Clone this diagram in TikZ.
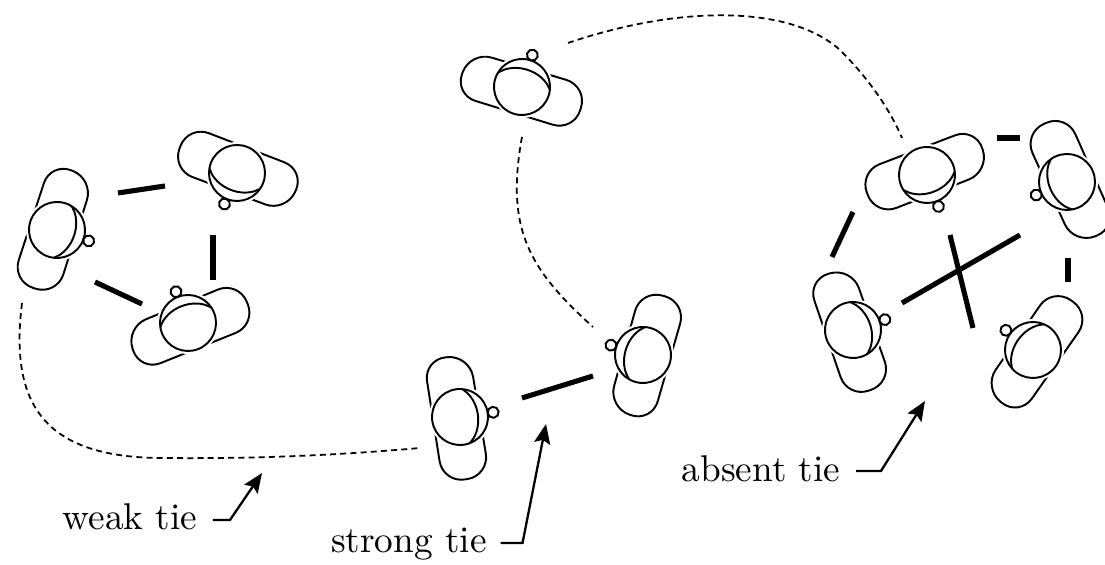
\documentclass[tikz,border=0pt]{standalone}
\usepackage{tikz}
\usetikzlibrary{arrows.meta, calc}

% one person seen from above: shoulders, head and nose
\newcommand{\person}[3]{%
	\coordinate (#1) at (#2);
	\begin{scope}[shift={(#1)}, rotate=#3]
		\draw[outline, rounded corners=0.22cm] (-28,-62) -- (18,-60) -- (21,62) -- (-26,63) -- cycle;
		\fill[white] (0,0) circle (31);
		\draw[outline] (0,0) circle (28);
		\begin{scope}
			\clip (0,0) circle (28);
			\draw[outline] (-7,0) ellipse (25 and 32);
		\end{scope}
		\draw[outline, fill=white] (33.5,0) circle (5.5);
	\end{scope}}

\begin{document}
\begin{tikzpicture}[x=0.01cm, y=-0.01cm,
		outline/.style={line width=0.55pt},
		strongtie/.style={line width=1.45pt},
		weaktie/.style={line width=0.5pt, dash pattern=on 1.7pt off 1.2pt},
		pointer/.style={line width=0.65pt, -{Stealth[length=5.6pt, width=4.6pt, inset=1pt]}},
		lbl/.style={inner sep=0pt, anchor=base, font=\fontsize{10.6}{12}\selectfont}]
	\useasboundingbox (0,0) rectangle (1105,565);

	% left group
	\person{p1}{57,230}{-19}
	\person{p2}{237,173}{-112}
	\person{p3}{188,323}{111}
	\draw[strongtie] (118,193) -- (165,186);
	\draw[strongtie] (213,235) -- (213,280);
	\draw[strongtie] (95,282) -- (142,304);

	% middle pair
	\person{p4}{522,87}{72}
	\person{p5}{460,417}{8}
	\person{p6}{643,355}{163}
	\draw[strongtie] (522,398) -- (593,376);

	% right group
	\person{p7}{927,175}{-70}
	\person{p8}{1067,182}{-157}
	\person{p9}{853,330}{18}
	\person{p10}{1033,350}{144}
	\draw[strongtie] (997,138) -- (1020,138);
	\draw[strongtie] (853,212) -- (832,257);
	\draw[strongtie] (1068,258) -- (1068,282);
	\draw[strongtie] (902,303) -- (1020,235);
	\draw[strongtie] (950,235) -- (973,328);

	% weak ties
	\draw[weaktie] (22,303) .. controls (10,400) and (40,457) .. (160,458)
		.. controls (260,459) and (340,455) .. (420,448);
	\draw[weaktie] (522,137) .. controls (505,230) and (530,270) .. (593,327);
	\draw[weaktie] (568,43) .. controls (680,5) and (790,5) .. (840,50)
		.. controls (870,80) and (890,110) .. (902,138);

	% labels
	\node[lbl] (weak) at (130,530) {weak tie};
	\node[lbl] (strong) at (409,553) {strong tie};
	\node[lbl] (absent) at (761,482) {absent tie};
	\draw[pointer] ($(weak.base east)+(15,-10)$) -- ++(17,0) -- (262,473);
	\draw[pointer] ($(strong.base east)+(13,-10)$) -- ++(22,0) -- (546,424);
	\draw[pointer] ($(absent.base east)+(15,-11)$) -- ++(25,0) -- (925,401);
\end{tikzpicture}
\end{document}
